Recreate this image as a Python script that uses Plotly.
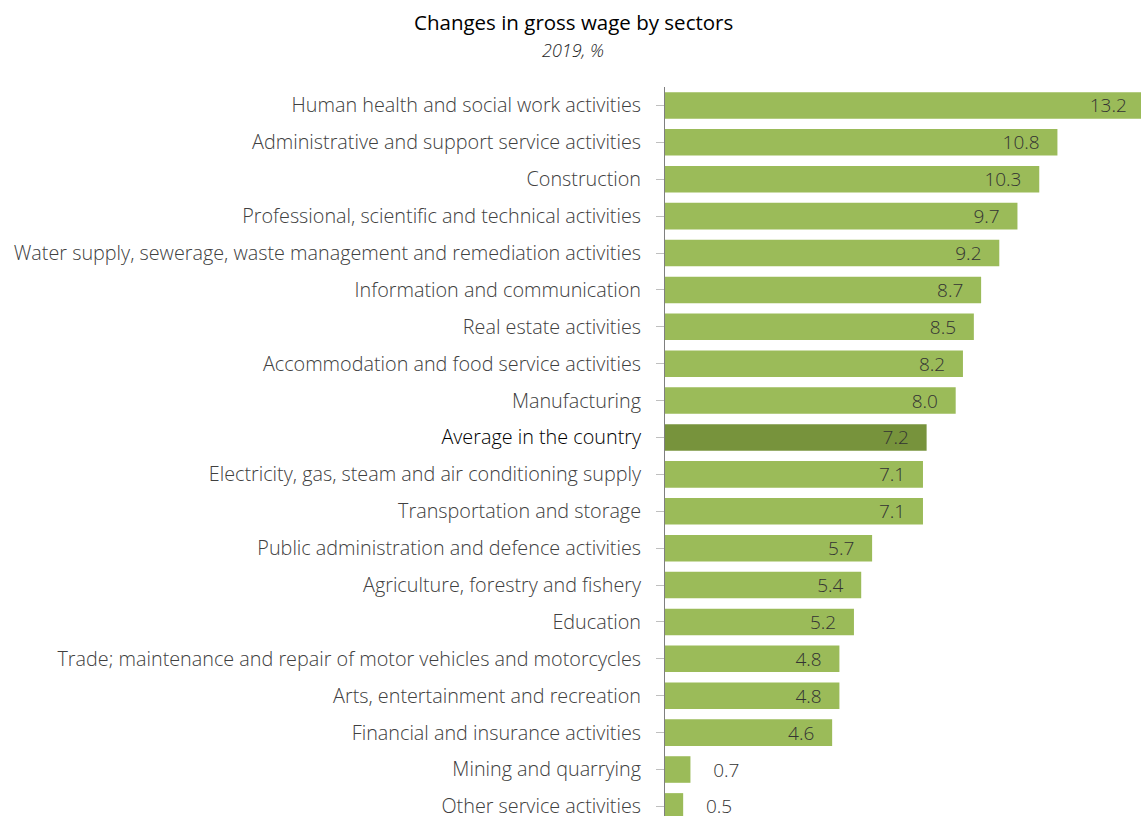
import plotly.graph_objects as go

# Sectors, top to bottom
sectors = [
    "Human health and social work activities",
    "Administrative and support service activities",
    "Construction",
    "Professional, scientific and technical activities",
    "Water supply, sewerage, waste management and remediation activities",
    "Information and communication",
    "Real estate activities",
    "Accommodation and food service activities",
    "Manufacturing",
    "Average in the country",
    "Electricity, gas, steam and air conditioning supply",
    "Transportation and storage",
    "Public administration and defence activities",
    "Agriculture, forestry and fishery",
    "Education",
    "Trade; maintenance and repair of motor vehicles and motorcycles",
    "Arts, entertainment and recreation",
    "Financial and insurance activities",
    "Mining and quarrying",
    "Other service activities",
]
change_pct = [13.2, 10.8, 10.3, 9.7, 9.2, 8.7, 8.5, 8.2, 8.0, 7.2,
              7.1, 7.1, 5.7, 5.4, 5.2, 4.8, 4.8, 4.6, 0.7, 0.5]
highlight = "Average in the country"

BAR = "#9BBB59"
BAR_AVG = "#77933C"
TXT = "#404040"
NB = "\u00a0"

idx = list(range(len(sectors)))
colors = [BAR_AVG if s == highlight else BAR for s in sectors]
text_pos = ["inside" if v >= 2 else "outside" for v in change_pct]
labels = [
    (f"{v:.1f}" + NB * 3) if v >= 2 else (NB * 4 + f"{v:.1f}")
    for v in change_pct
]
tick_text = [
    f"<span style='color:#000000'>{s}</span>" if s == highlight else s
    for s in sectors
]

fig = go.Figure(
    go.Bar(
        x=change_pct,
        y=idx,
        orientation="h",
        marker=dict(color=colors, line=dict(width=0)),
        text=labels,
        textposition=text_pos,
        insidetextanchor="end",
        textfont=dict(family="Open Sans", size=19, color="#333333", weight=300),
        constraintext="none",
        cliponaxis=True,
        width=0.72,
        hoverinfo="skip",
    )
)

TOP = 87
PLOT_H = 816 - TOP

fig.update_layout(
    width=1141,
    height=816,
    margin=dict(l=665, r=0, t=TOP, b=0, autoexpand=False),
    paper_bgcolor="white",
    plot_bgcolor="white",
    showlegend=False,
    font=dict(family="Open Sans", color=TXT),
)

# Title block centred above the chart
title_x = (573 - 665) / 476
fig.add_annotation(
    text="Changes in gross wage by sectors",
    xref="paper", yref="paper", x=title_x, y=1 + (TOP - 22) / PLOT_H,
    xanchor="center", yanchor="middle", showarrow=False,
    font=dict(family="Open Sans", size=20.5, color="#000000"),
)
fig.add_annotation(
    text="<i>2019, %</i>",
    xref="paper", yref="paper", x=title_x, y=1 + (TOP - 50) / PLOT_H,
    xanchor="center", yanchor="middle", showarrow=False,
    font=dict(family="Open Sans", size=18, color="#262626", weight=300),
)

fig.update_xaxes(
    range=[0, 13.1],
    visible=False,
    automargin=False,
    fixedrange=True,
)
fig.update_yaxes(
    tickmode="array",
    tickvals=idx,
    ticktext=tick_text,
    range=[19.26, -0.5],
    automargin=False,
    showline=True,
    linecolor="#7f7f7f",
    linewidth=1,
    ticks="outside",
    tickson="boundaries",
    ticklen=8,
    tickcolor="#bfbfbf",
    tickwidth=1,
    showgrid=False,
    zeroline=False,
    ticklabelstandoff=11,
    ticklabeloverflow="allow",
    tickfont=dict(family="Open Sans", size=19.8, color=TXT, weight=300),
    fixedrange=True,
)

fig.write_html("out.html")
